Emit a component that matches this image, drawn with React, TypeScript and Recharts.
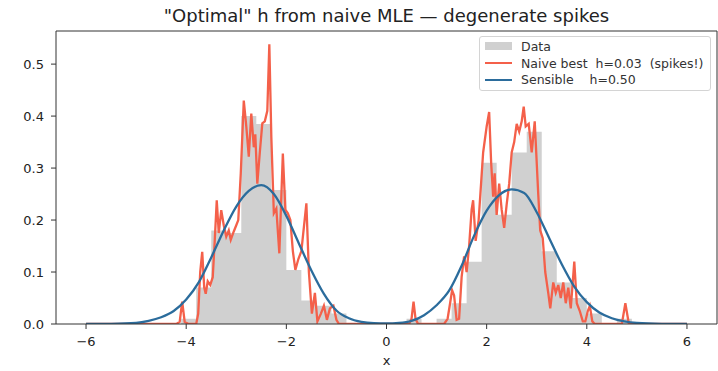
import { ComposedChart, Area, Line, XAxis, YAxis, ReferenceLine } from 'recharts'

// naive KDE, h = 0.03 (spiky)
const naiveX = [
  -6, -4.2, -4.13, -4.08, -4.03, -3.95, -3.8, -3.76, -3.72, -3.68, -3.64, -3.61, -3.57, -3.52, -3.47,
  -3.43, -3.39, -3.35, -3.3, -3.25, -3.2, -3.15, -3.11, -3.05, -3.0, -2.96, -2.91, -2.85, -2.8, -2.75,
  -2.7, -2.65, -2.62, -2.58, -2.53, -2.48, -2.43, -2.38, -2.34, -2.3, -2.25, -2.2, -2.14, -2.07, -2.02,
  -1.97, -1.92, -1.87, -1.82, -1.76, -1.7, -1.6, -1.55, -1.49, -1.43, -1.38, -1.31, -1.25, -1.19, -1.13,
  -1.06, -1.0, -0.95, 0.45, 0.5, 0.54, 0.58, 0.63, 1.15, 1.22, 1.27, 1.31, 1.35, 1.4, 1.45,
  1.5, 1.55, 1.6, 1.65, 1.7, 1.73, 1.78, 1.84, 1.93, 2.0, 2.05, 2.09, 2.13, 2.16, 2.2,
  2.25, 2.3, 2.35, 2.4, 2.45, 2.5, 2.55, 2.6, 2.65, 2.7, 2.74, 2.78, 2.84, 2.9, 2.96,
  3.03, 3.07, 3.12, 3.17, 3.23, 3.27, 3.33, 3.38, 3.43, 3.48, 3.53, 3.58, 3.63, 3.68, 3.75,
  3.8, 3.86, 3.92, 3.97, 4.02, 4.06, 4.11, 4.16, 4.7, 4.77, 4.84, 6,
]
const naiveY = [
  0, 0, 0.004, 0.043, 0.004, 0, 0, 0.02, 0.1, 0.139, 0.07, 0.058, 0.082, 0.075, 0.09,
  0.16, 0.238, 0.175, 0.219, 0.19, 0.168, 0.18, 0.162, 0.178, 0.19, 0.2, 0.29, 0.43, 0.38, 0.322,
  0.405, 0.34, 0.365, 0.27, 0.33, 0.386, 0.39, 0.41, 0.538, 0.36, 0.213, 0.222, 0.136, 0.328, 0.22,
  0.213, 0.2, 0.14, 0.104, 0.125, 0.14, 0.232, 0.1, 0.02, 0.06, 0.005, 0.02, 0.035, 0.008, 0.03,
  0.035, 0.008, 0, 0, 0.01, 0.043, 0.01, 0, 0, 0.01, 0.04, 0.065, 0.055, 0.008, 0.01,
  0.09, 0.13, 0.1, 0.15, 0.22, 0.238, 0.16, 0.2, 0.33, 0.38, 0.408, 0.31, 0.245, 0.29, 0.21,
  0.27, 0.22, 0.185, 0.23, 0.27, 0.33, 0.35, 0.385, 0.37, 0.39, 0.418, 0.38, 0.385, 0.33, 0.39,
  0.25, 0.18, 0.165, 0.1, 0.06, 0.03, 0.08, 0.06, 0.075, 0.05, 0.08, 0.04, 0.07, 0.03, 0.12,
  0.04, 0.025, 0.005, 0.005, 0.025, 0.035, 0.005, 0, 0, 0.04, 0, 0,
]

// sensible KDE, h = 0.50
const sensibleX = [
  -6, -5.5, -5, -4.75, -4.5, -4.25, -4, -3.75, -3.5, -3.25, -3, -2.75, -2.5, -2.25, -2, -1.75,
  -1.5, -1.25, -1, -0.75, -0.5, -0.25, 0, 0.25, 0.5, 0.75, 1, 1.25, 1.5, 1.75, 2, 2.25,
  2.5, 2.75, 3, 3.25, 3.5, 3.75, 4, 4.25, 4.5, 4.75, 5, 5.5, 6,
]
const sensibleY = [
  0, 0.0003, 0.002, 0.006, 0.013, 0.025, 0.047, 0.08, 0.128, 0.18, 0.226, 0.256, 0.267, 0.25, 0.208, 0.155,
  0.103, 0.058, 0.026, 0.011, 0.004, 0.0015, 0.001, 0.002, 0.006, 0.017, 0.036, 0.064, 0.112, 0.17, 0.218, 0.248,
  0.259, 0.252, 0.215, 0.165, 0.115, 0.072, 0.042, 0.022, 0.011, 0.005, 0.002, 0.0003, 0,
]

// histogram (density)
const binEdges = [
  -4.1, -3.8, -3.5, -3.2, -2.9, -2.6, -2.3, -2.0, -1.7, -1.4, -1.1, -0.8, -0.5, -0.2, 0.1, 0.4,
  0.7, 1.0, 1.3, 1.6, 1.9, 2.2, 2.5, 2.8, 3.1, 3.4, 3.7, 4.0, 4.3, 4.6, 4.9,
]
const binHeights = [
  0.01, 0.07, 0.18, 0.175, 0.4, 0.385, 0.258, 0.104, 0.045, 0.035, 0.02, 0, 0, 0, 0, 0.01,
  0, 0.01, 0.04, 0.12, 0.31, 0.21, 0.33, 0.37, 0.14, 0.08, 0.05, 0.02, 0, 0.01,
]

const xTicks = [-6, -4, -2, 0, 2, 4, 6]
const yTicks = [0, 0.1, 0.2, 0.3, 0.4, 0.5]

const X_MIN = -6.6
const X_MAX = 6.6
const Y_MAX = 0.5637

const RED = '#f4604a'
const BLUE = '#2b6c9c'
const GRAY = '#d0d0d0'
const FONT = '"DejaVu Sans", sans-serif'

const histData = binEdges.map((x, i) => ({ x, y: i < binHeights.length ? binHeights[i] : 0 }))
const naiveData = naiveX.map((x, i) => ({ x, y: naiveY[i] }))
const sensibleData = sensibleX.map((x, i) => ({ x, y: sensibleY[i] }))

const fmtX = (v: number) => (v < 0 ? `\u2212${Math.abs(v)}` : `${v}`)

function LegendBox() {
  const row = { display: 'flex', alignItems: 'center', height: 16.7 }
  const text = { marginLeft: 9, fontSize: 12.5, color: '#333', whiteSpace: 'pre' as const }
  return (
    <div
      style={{
        position: 'absolute',
        left: 479,
        top: 36,
        width: 232,
        height: 55,
        boxSizing: 'border-box',
        border: '1px solid #d4d4d4',
        borderRadius: 3,
        background: 'rgba(255,255,255,0.85)',
        padding: '1px 0 0 5px',
      }}
    >
      <div style={row}>
        <span style={{ width: 27, height: 8, background: GRAY, display: 'inline-block' }} />
        <span style={text}>Data</span>
      </div>
      <div style={row}>
        <span style={{ width: 27, height: 2, background: RED, display: 'inline-block' }} />
        <span style={text}>{'Naive best  h=0.03  (spikes!)'}</span>
      </div>
      <div style={row}>
        <span style={{ width: 27, height: 2, background: BLUE, display: 'inline-block' }} />
        <span style={text}>{'Sensible    h=0.50'}</span>
      </div>
    </div>
  )
}

export default function App() {
  const tick = { fill: '#222', fontSize: 13, fontFamily: FONT }
  return (
    <div style={{ position: 'absolute', left: 0, top: 0, width: 718, height: 371, fontFamily: FONT, background: '#fff' }}>
      <div
        style={{
          position: 'absolute',
          left: 56,
          width: 661,
          top: 6,
          textAlign: 'center',
          fontSize: 18,
          lineHeight: '20px',
          color: '#222',
        }}
      >
        "Optimal" h from naive MLE — degenerate spikes
      </div>
      <ComposedChart width={718} height={371} margin={{ top: 31, right: 1, bottom: 0, left: 0 }}>
        <XAxis
          type="number"
          dataKey="x"
          domain={[X_MIN, X_MAX]}
          ticks={xTicks}
          tickFormatter={fmtX}
          allowDataOverflow
          height={47}
          tickSize={5}
          tickMargin={8}
          tick={tick}
          stroke="#333"
          label={{ value: 'x', position: 'insideBottom', offset: 6, fill: '#222', fontSize: 13, fontFamily: FONT }}
        />
        <YAxis
          type="number"
          domain={[0, Y_MAX]}
          ticks={yTicks}
          tickFormatter={(v: number) => v.toFixed(1)}
          allowDataOverflow
          width={56}
          tickSize={5}
          tickMargin={7}
          tick={tick}
          stroke="#333"
        />
        <Area
          data={histData}
          dataKey="y"
          type="stepAfter"
          fill={GRAY}
          fillOpacity={1}
          stroke="none"
          isAnimationActive={false}
        />
        <Line
          data={naiveData}
          dataKey="y"
          type="linear"
          stroke={RED}
          strokeWidth={2.3}
          dot={false}
          isAnimationActive={false}
        />
        <Line
          data={sensibleData}
          dataKey="y"
          type="monotone"
          stroke={BLUE}
          strokeWidth={2.3}
          dot={false}
          isAnimationActive={false}
        />
        <ReferenceLine y={Y_MAX} stroke="#333" />
        <ReferenceLine x={X_MAX} stroke="#333" />
      </ComposedChart>
      <LegendBox />
    </div>
  )
}
